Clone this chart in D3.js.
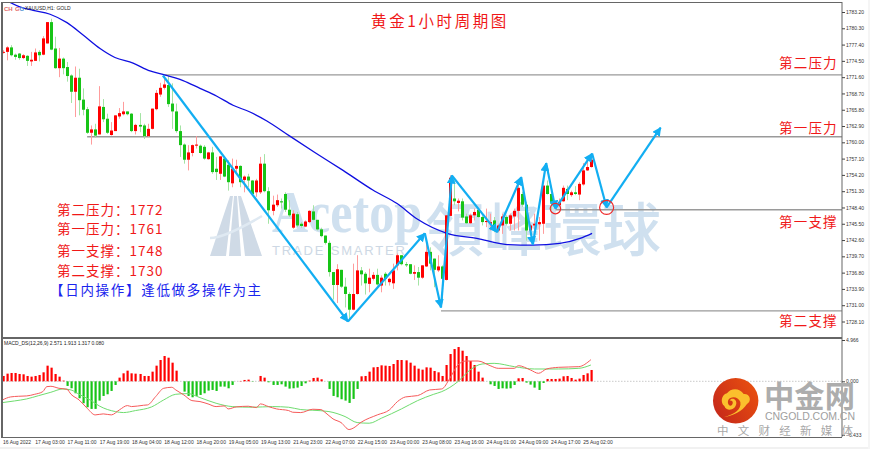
<!DOCTYPE html>
<html>
<head>
<meta charset="utf-8">
<script src="https://cdnjs.cloudflare.com/ajax/libs/d3/7.8.5/d3.min.js"></script>
<style>
html, body { margin: 0; padding: 0; background: #fff; overflow: hidden; }
svg { display: block; }
.axis text { font-family: "Liberation Sans", sans-serif; font-size: 5px; fill: #333; }
.axis line { stroke: #444; }
.axis path { display: none; }
</style>
</head>
<body>
<svg id="chart" width="870" height="449"></svg>
<script>
var candleOpen = [
  1776.0,1776.1,1776.9,1775.6,1775.8,1775.0,1775.4,1774.4,1774.5,1776.1,
  1775.6,1777.6,1781.4,1776.7,1773.2,1774.9,1773.4,1771.9,1769.0,1771.5,
  1767.6,1765.9,1761.7,1762.3,1761.4,1766.3,1764.2,1761.3,1762.0,1764.6,
  1765.0,1765.5,1765.1,1762.0,1763.1,1763.0,1761.1,1762.4,1765.9,1768.5,
  1769.7,1770.2,1766.9,1765.5,1762.0,1759.6,1756.9,1758.1,1759.4,1759.4,
  1759.2,1757.0,1758.2,1755.3,1754.4,1757.1,1756.0,1752.7,1755.3,1755.8,
  1753.3,1753.9,1753.2,1751.1,1751.1,1756.2,1751.3,1747.8,1748.8,1749.5,
  1750.8,1748.0,1744.8,1747.2,1745.5,1745.0,1745.8,1747.7,1746.2,1744.5,
  1743.4,1742.1,1736.9,1734.6,1737.3,1734.3,1733.0,1730.2,1733.0,1737.2,
  1736.6,1734.8,1735.7,1736.4,1734.5,1736.6,1735.1,1734.9,1738.1,1739.9,
  1738.3,1738.3,1736.6,1736.9,1735.9,1737.9,1740.5,1739.3,1737.2,1737.9,
  1735.5,1746.9,1750.0,1749.2,1749.5,1746.8,1745.6,1747.0,1748.0,1746.7,
  1745.8,1745.5,1746.1,1744.3,1745.2,1746.7,1745.5,1746.8,1747.8,1750.8,
  1748.9,1744.3,1745.2,1745.4,1745.5,1752.3,1750.8,1748.6,1748.8,1749.5,
  1751.7,1750.6,1751.1,1750.7,1752.5,1755.0,1755.6];
var candleClose = [
  1776.1,1776.9,1775.5,1775.2,1775.0,1775.5,1774.5,1774.7,1776.0,1775.5,
  1778.5,1781.4,1776.5,1773.2,1774.9,1773.2,1771.8,1769.0,1771.5,1767.5,
  1765.8,1761.7,1762.3,1761.2,1766.4,1764.1,1761.7,1762.1,1764.8,1765.2,
  1765.5,1765.0,1762.0,1763.1,1762.8,1761.1,1762.4,1766.0,1768.8,1769.7,
  1770.3,1766.8,1765.5,1762.0,1759.5,1756.9,1758.2,1759.5,1759.6,1758.1,
  1757.1,1758.2,1754.7,1754.7,1757.5,1753.9,1752.9,1755.3,1755.8,1752.9,
  1753.9,1753.2,1750.8,1753.2,1756.2,1751.3,1747.9,1748.9,1749.7,1749.3,
  1748.0,1747.0,1747.3,1745.2,1745.1,1745.9,1747.8,1746.2,1744.5,1743.3,
  1742.1,1736.9,1734.6,1737.4,1734.3,1733.0,1730.2,1733.0,1737.2,1736.5,
  1734.9,1735.9,1736.4,1734.7,1735.9,1735.7,1735.7,1737.2,1739.9,1738.3,
  1738.1,1736.6,1736.9,1735.9,1738.1,1740.5,1738.4,1737.3,1737.9,1735.7,
  1747.0,1753.7,1749.5,1749.6,1746.6,1745.6,1747.0,1747.6,1746.7,1745.8,
  1746.0,1745.8,1744.3,1745.2,1746.8,1745.5,1747.0,1747.8,1751.9,1748.9,
  1744.3,1745.2,1745.5,1745.8,1752.3,1750.8,1749.1,1748.9,1749.4,1751.9,
  1750.8,1751.1,1750.8,1752.6,1755.0,1755.6,1756.9];
var candleHigh = [
  1776.4,1777.1,1777.3,1775.8,1775.9,1775.7,1775.5,1776.1,1776.7,1776.4,
  1778.9,1781.4,1782.0,1778.8,1776.8,1775.1,1774.3,1772.1,1773.5,1773.1,
  1769.6,1766.3,1763.0,1763.3,1770.0,1767.7,1765.1,1763.6,1764.8,1766.1,
  1767.2,1765.5,1765.2,1763.3,1765.2,1763.3,1763.3,1766.0,1769.3,1770.6,
  1771.9,1771.9,1770.5,1766.9,1763.0,1759.8,1759.5,1759.6,1761.1,1759.6,
  1759.5,1758.3,1759.2,1757.4,1757.5,1757.4,1756.8,1757.1,1756.9,1755.9,
  1754.1,1754.4,1753.3,1753.5,1757.4,1757.9,1752.0,1750.5,1750.7,1750.0,
  1751.1,1749.7,1747.9,1747.6,1745.8,1746.1,1747.9,1748.8,1746.2,1744.8,
  1743.4,1742.5,1736.9,1738.3,1737.3,1735.9,1733.3,1738.4,1739.9,1737.8,
  1736.9,1737.5,1736.9,1737.5,1736.3,1736.9,1735.9,1738.4,1740.2,1739.9,
  1738.7,1738.3,1738.1,1737.8,1738.1,1742.2,1741.3,1739.3,1739.9,1738.1,
  1747.0,1754.1,1753.2,1750.0,1750.0,1747.3,1747.3,1748.2,1748.2,1747.0,
  1748.2,1747.3,1746.7,1745.5,1747.3,1747.0,1747.3,1748.2,1753.2,1751.2,
  1749.4,1745.5,1747.3,1746.7,1752.3,1753.2,1751.1,1749.4,1750.0,1752.3,
  1752.3,1751.4,1752.2,1752.9,1756.3,1756.8,1758.0];
var candleLow = [
  1775.8,1774.6,1775.3,1774.7,1774.7,1774.8,1773.6,1773.6,1774.5,1774.4,
  1775.5,1777.6,1776.4,1773.1,1771.6,1772.1,1770.8,1767.0,1764.5,1764.8,
  1764.8,1761.5,1759.6,1760.8,1761.4,1763.6,1761.5,1761.2,1762.0,1764.2,
  1764.8,1764.8,1761.8,1761.4,1761.8,1760.6,1760.9,1762.3,1765.7,1768.1,
  1769.4,1766.3,1762.4,1761.7,1757.4,1756.2,1755.0,1757.5,1758.9,1758.0,
  1756.9,1756.9,1754.4,1753.3,1753.3,1753.8,1751.4,1752.0,1754.7,1752.0,
  1751.1,1752.0,1750.6,1750.3,1750.8,1751.1,1745.5,1747.0,1748.5,1748.2,
  1747.6,1746.7,1744.6,1744.9,1744.8,1744.9,1745.6,1746.1,1744.3,1743.1,
  1741.8,1736.1,1732.0,1731.4,1734.1,1730.6,1728.3,1730.1,1732.9,1734.5,
  1732.9,1733.3,1735.4,1734.5,1733.3,1734.5,1734.5,1733.9,1737.2,1738.1,
  1737.8,1736.5,1735.5,1734.5,1735.7,1737.8,1737.2,1734.2,1736.9,1731.5,
  1735.4,1746.9,1748.8,1747.7,1746.1,1745.5,1745.5,1746.1,1746.6,1745.2,
  1744.9,1744.3,1744.0,1744.0,1743.7,1745.2,1744.3,1744.3,1744.3,1748.5,
  1742.5,1743.7,1743.1,1742.5,1743.7,1750.7,1747.9,1748.2,1748.5,1749.4,
  1749.7,1750.3,1750.6,1749.7,1752.3,1754.9,1755.5];

// moving average, [bar index, price]
var maIndex = [1.9,4.3,7.6,11.8,16,20,24.2,27.9,32.4,36.6,39.8,44.8,49,53.2,57.2,61.4,65.6,71.3,77.5,84.5,91.9,97.9,103,110.3,117.7,125.2,131.6,138.3,143.3,146.3];
var maValue = [1784.9,1784.1,1783.5,1782.8,1781.3,1779.1,1776.7,1775.1,1774.1,1772.7,1772.1,1771.0,1769.6,1768.2,1766.6,1765.4,1763.8,1761.1,1758.2,1755.0,1751.5,1749.1,1746.3,1743.8,1742.9,1741.8,1741.7,1742.0,1742.9,1743.8];

// hand drawn trend arrows
var trendIndex = [39.8,85.7,104.8,108.8,111.5,122.7,128.7,131.6,134.9,137.2,146.3,149.9,163.3];
var trendPrice = [1771.9,1728.1,1743.8,1730.6,1754.1,1744.0,1753.8,1741.8,1756.3,1748.2,1758.0,1748.4,1762.6];

// horizontal levels
var levelPrice = [1772,1761,1748,1730];
var levelStart = [39.8,21,137.2,108.8];
var levelNames = ["第二压力","第一压力","第一支撑","第二支撑"];
var levelLabelPrice = [1773.8,1762.4,1745.5,1728.0];

var noteRows = ["第二压力：1772","第一压力：1761","第一支撑：1748","第二支撑：1730"];

var priceTicks = [1783.2,1780.3,1777.4,1774.5,1771.6,1768.7,1765.8,1762.9,1760,1757.1,1754.2,1751.3,1748.4,1745.5,1742.6,1739.7,1736.8,1733.9,1731,1728.1];
var timeLabels = ["16 Aug 2022","17 Aug 03:00","17 Aug 11:00","17 Aug 19:00","18 Aug 04:00","18 Aug 12:00","18 Aug 20:00","19 Aug 05:00","19 Aug 13:00","21 Aug 23:00","22 Aug 07:00","22 Aug 15:00","23 Aug 00:00","23 Aug 08:00","23 Aug 16:00","24 Aug 01:00","24 Aug 09:00","24 Aug 17:00","25 Aug 02:00"];
var macdTicks = [4.966,0,-6.433];

var macdHist = [
  .64,.92,1,1,.88,.84,.64,.56,.64,.76,
  1.08,1.88,1.64,.88,.56,.08,-.56,-.84,-1.44,-2.04,
  -2.64,-3.12,-3.32,-3.32,-2.32,-1.76,-1.56,-1.16,-.44,.44,
  .96,1.28,.96,.92,.88,.64,.64,1.16,1.88,2.56,
  3.04,2.84,2.24,1.28,0,-1.24,-1.76,-1.92,-1.76,-1.64,
  -1.44,-1.12,-1.04,-1.16,-.64,-.64,-.84,-.44,0,.04,
  .16,.2,-.04,0,.64,.44,-.12,-.44,-.44,-.36,
  -.64,-.88,-.84,-.76,-.56,-.24,.08,.4,.44,.24,
  0,-.92,-1.76,-1.92,-2.16,-2.32,-2.6,-2.12,-.92,.6,
  .64,1.16,1.68,1.72,1.92,1.88,1.84,2.08,2.56,2.56,
  2.52,2.24,1.88,1.52,1.4,1.68,1.64,1.24,1.08,.64,
  1.96,3.28,3.88,4.12,3.68,3.04,2.44,1.96,1.16,.44,
  0,-.36,-.56,-.92,-.84,-.88,-.84,-.44,.36,.4,
  -.16,-.4,-.76,-1.04,-.2,.28,.28,.28,.32,.6,
  .64,.4,.2,.32,.76,.96,1.36];

var macdIndex = [0,2,4,6,8,10,11,12,14,16,17,19,21,23,25,27,29,31,32,35,36,38,40,42,43,45,47,49,51,53,55,56,58,61,63,64,66,68,71,72,74,77,79,80,82,84,86,87,89,93,96,98,100,103,106,109,111,113,115,118,121,123,127,128,131,133,135,138,143,146];
var macdLine = [-2.24,-1.88,-1.8,-1.76,-1.56,-1.24,-.64,-.6,-.84,-.96,-1.56,-2.24,-3.24,-4.04,-3.92,-4.04,-3.44,-2.92,-3.04,-2.88,-2.84,-1.84,-.84,-.72,-1.04,-1.64,-2.32,-2.44,-2.72,-3.04,-2.96,-3.32,-3.08,-3,-3.16,-2.72,-3.04,-3.32,-3.52,-3.72,-3.76,-3.36,-3.4,-3.72,-4.52,-4.96,-5.8,-5.64,-4.92,-4.04,-3.44,-2.44,-1.88,-1.72,-1.04,-.92,.36,1.96,2.44,2.44,1.88,1.56,1.56,1.88,1.36,.96,1.48,1.68,1.76,2.6];
var signalIndex = [0,3,6,9,12,15,17,19,22,24,28,30,33,37,40,43,46,49,53,57,62,67,71,74,77,81,85,88,91,94,99,103,107,109,113,116,119,122,127,132,138,143,146];
var signalLine = [-2.56,-2.36,-2.12,-1.72,-1.32,-.92,-1.04,-1.56,-2.32,-2.96,-3.64,-3.76,-3.52,-3.08,-2.24,-1.56,-1.48,-1.96,-2.64,-3.04,-3.12,-3.04,-3.12,-3.4,-3.48,-3.64,-4.24,-4.96,-5.04,-4.44,-3.32,-2.32,-1.56,-1.24,-.04,1.36,2.08,2.16,1.76,1.48,1.48,1.56,1.96];

var UP = "#ff0000", DOWN = "#17c417", ARROW = "#12aef2";
var AXIS_X = 842, PANE_BOTTOM = 337, SUB_TOP = 339, SUB_BOTTOM = 437;
var CJK = '"Noto Sans CJK SC", sans-serif';

var svg = d3.select("#chart");
var defs = svg.append("defs");
var x = d3.scaleLinear().domain([0, 146]).range([2.5, 590.9]);
var y = d3.scaleLinear().domain([1783.2, 1728.1]).range([12, 321.5]);
var yMacd = d3.scaleLinear().domain([4.966, -6.433]).range([340, 434.8]);

svg.append("rect").attr("x", 0).attr("y", 447).attr("width", 870).attr("height", 2).attr("fill", "#f1f1f1");
svg.append("rect").attr("x", 868).attr("y", 0).attr("width", 2).attr("height", 449).attr("fill", "#f5f5f5");

drawWatermark();

defs.append("clipPath").attr("id", "main-clip")
  .append("rect").attr("x", 3).attr("y", 3).attr("width", AXIS_X - 3).attr("height", PANE_BOTTOM - 3);

// support / resistance levels
svg.append("g").selectAll("line")
  .data(levelPrice)
  .join("line")
    .attr("x1", (d, i) => x(levelStart[i]))
    .attr("x2", AXIS_X)
    .attr("y1", d => y(d))
    .attr("y2", d => y(d))
    .attr("stroke", "#9a9a9a")
    .attr("stroke-width", 1.4);

// candles
var bars = d3.range(candleOpen.length);
var candle = svg.append("g").selectAll("g")
  .data(bars)
  .join("g")
    .attr("transform", i => "translate(" + Math.round(x(i)) + ",0)");
candle.append("line")
    .attr("x1", 0.5).attr("x2", 0.5)
    .attr("y1", i => y(candleHigh[i]))
    .attr("y2", i => y(candleLow[i]))
    .attr("stroke", i => candleClose[i] >= candleOpen[i] ? "#ff9c9c" : "#a4e4a4")
    .attr("stroke-width", 1);
candle.append("rect")
    .attr("x", -1).attr("width", 3)
    .attr("y", i => y(Math.max(candleOpen[i], candleClose[i])))
    .attr("height", i => Math.max(1, Math.abs(y(candleOpen[i]) - y(candleClose[i]))))
    .attr("fill", i => candleClose[i] >= candleOpen[i] ? UP : DOWN);

// moving average
svg.append("path")
    .datum(d3.range(maIndex.length))
    .attr("clip-path", "url(#main-clip)")
    .attr("fill", "none")
    .attr("stroke", "#0f0fe0")
    .attr("stroke-width", 1.3)
    .attr("d", d3.line().x(i => x(maIndex[i])).y(i => y(maValue[i])).curve(d3.curveMonotoneX));

// trend arrows
defs.append("marker")
    .attr("id", "head")
    .attr("viewBox", "0 0 10 10")
    .attr("refX", 9).attr("refY", 5)
    .attr("markerUnits", "userSpaceOnUse")
    .attr("markerWidth", 9).attr("markerHeight", 9)
    .attr("orient", "auto")
  .append("path")
    .attr("d", "M0 0L10 5L0 10Z")
    .attr("fill", ARROW);
svg.append("g").selectAll("line")
  .data(d3.range(trendIndex.length - 1))
  .join("line")
    .attr("x1", i => x(trendIndex[i]))
    .attr("y1", i => y(trendPrice[i]))
    .attr("x2", i => x(trendIndex[i + 1]))
    .attr("y2", i => y(trendPrice[i + 1]))
    .attr("stroke", ARROW)
    .attr("stroke-width", 2.2)
    .attr("marker-end", "url(#head)");

// the two circled pullbacks
svg.append("g").selectAll("circle")
  .data([[9, 5.2], [11, 7]])
  .join("circle")
    .attr("cx", d => x(trendIndex[d[0]]))
    .attr("cy", d => y(trendPrice[d[0]]))
    .attr("r", d => d[1])
    .attr("fill", "none")
    .attr("stroke", "#ee2a2a")
    .attr("stroke-width", 1.2);

// macd pane
svg.append("line")
    .attr("x1", 3).attr("x2", AXIS_X)
    .attr("y1", yMacd(0)).attr("y2", yMacd(0))
    .attr("stroke", "#bbb").attr("stroke-width", 0.8)
    .attr("stroke-dasharray", "1.5,1.5");
svg.append("g").selectAll("rect")
  .data(macdHist)
  .join("rect")
    .attr("x", (d, i) => Math.round(x(i)) - 0.5)
    .attr("width", 2.2)
    .attr("y", d => yMacd(Math.max(d, 0)))
    .attr("height", d => Math.abs(yMacd(d) - yMacd(0)))
    .attr("fill", d => d >= 0 ? UP : DOWN);
svg.append("path")
    .datum(d3.range(signalIndex.length))
    .attr("fill", "none").attr("stroke", "#6fdc6f").attr("stroke-width", 1)
    .attr("d", d3.line().x(i => x(signalIndex[i])).y(i => yMacd(signalLine[i])).curve(d3.curveMonotoneX));
svg.append("path")
    .datum(d3.range(macdIndex.length))
    .attr("fill", "none").attr("stroke", "#f65a5a").attr("stroke-width", 1)
    .attr("d", d3.line().x(i => x(macdIndex[i])).y(i => yMacd(macdLine[i])).curve(d3.curveMonotoneX));

// frame
var frame = svg.append("g").attr("fill", "#666");
frame.append("rect").attr("x", 1).attr("y", 2).attr("width", AXIS_X - 1).attr("height", 1);
frame.append("rect").attr("x", 1).attr("y", 2).attr("width", 2).attr("height", SUB_BOTTOM - 2);
frame.append("rect").attr("x", 1).attr("y", PANE_BOTTOM).attr("width", AXIS_X - 1).attr("height", 2);
frame.append("rect").attr("x", 1).attr("y", SUB_BOTTOM).attr("width", AXIS_X - 1).attr("height", 1);
frame.append("rect").attr("x", AXIS_X - 0.5).attr("y", 2).attr("width", 1).attr("height", SUB_BOTTOM - 2);

// axes
svg.append("g").attr("class", "axis")
    .attr("transform", "translate(" + AXIS_X + ",0)")
    .call(d3.axisRight(y).tickValues(priceTicks).tickFormat(d3.format(".2f")).tickSize(3).tickPadding(1));
svg.append("g").attr("class", "axis")
    .attr("transform", "translate(" + AXIS_X + ",0)")
    .call(d3.axisRight(yMacd).tickValues(macdTicks).tickFormat(d3.format(".3f")).tickSize(3).tickPadding(1));
svg.append("g").attr("class", "axis")
    .attr("transform", "translate(0," + (SUB_BOTTOM + 1) + ")")
    .call(d3.axisBottom(d3.scalePoint().domain(timeLabels).range([x(0), x(8 * (timeLabels.length - 1))]))
      .tickSize(0).tickPadding(2))
    .selectAll("text").attr("text-anchor", "start");

drawCnGoldLogo();

// labels
svg.append("text")
    .attr("x", 440).attr("y", 27)
    .attr("text-anchor", "middle")
    .attr("font-family", CJK).attr("font-size", 15.5).attr("letter-spacing", 2.6)
    .attr("fill", "#f01818")
    .text("黄金1小时周期图");

svg.append("g").selectAll("text")
  .data(levelNames)
  .join("text")
    .attr("x", 779)
    .attr("y", (d, i) => y(levelLabelPrice[i]))
    .attr("dominant-baseline", "middle")
    .attr("font-family", CJK).attr("font-size", 13.5).attr("letter-spacing", 1.2)
    .attr("fill", "#f01818")
    .text(d => d);

svg.append("g").selectAll("text")
  .data(noteRows)
  .join("text")
    .attr("x", 57)
    .attr("y", (d, i) => [215, 234, 256, 275.5][i])
    .attr("font-family", CJK).attr("font-size", 13.5).attr("letter-spacing", 1)
    .attr("fill", "#f01818")
    .text(d => d);
svg.append("text")
    .attr("x", 50).attr("y", 294.5)
    .attr("font-family", CJK).attr("font-size", 13.5).attr("letter-spacing", 1.7)
    .attr("fill", "#1a25ee")
    .text("【日内操作】逢低做多操作为主");

svg.append("text").attr("x", 25).attr("y", 10)
    .attr("font-family", "Liberation Sans").attr("font-size", 5).attr("fill", "#222")
    .text("XAUUSD,H1: GOLD");
svg.append("text").attr("x", 4).attr("y", 345)
    .attr("font-family", "Liberation Sans").attr("font-size", 5).attr("fill", "#222")
    .text("MACD_DS(12,26,9) 2.571 1.913 1.317 0.080");
svg.append("text").attr("x", 4).attr("y", 10.5)
    .attr("font-family", "Liberation Sans").attr("font-size", 6).attr("font-weight", 700).attr("fill", "#e56a6a")
    .text("CH");
svg.append("text").attr("x", 15).attr("y", 10.5)
    .attr("font-family", "Liberation Sans").attr("font-size", 6).attr("font-weight", 700).attr("fill", "#e56a6a")
    .text("G");
svg.append("text").attr("x", 19.5).attr("y", 10.5)
    .attr("font-family", "Liberation Sans").attr("font-size", 6).attr("font-weight", 700).attr("fill", "#4f8fd0")
    .text("O");

function drawWatermark() {
  var g = svg.append("g");
  var roadColor = "#cfdae6";
  // road shaped logo
  g.append("path").attr("fill", roadColor)
    .attr("d", "M230 196L233 196L226 256L210 256ZM234 196L237 196L241 256L229 256ZM238 196L241 196L262 256L245 256Z");
  g.append("path").attr("fill", "none").attr("stroke", "#dfe9f2").attr("stroke-width", 2.5)
    .attr("d", "M210 238C222 238 245 226 262 216");
  g.append("text").attr("x", 272).attr("y", 232)
    .attr("font-family", "Liberation Serif").attr("font-size", 60).attr("font-weight", 700)
    .attr("textLength", 150).attr("lengthAdjust", "spacingAndGlyphs")
    .attr("fill", "#cfe0ef").text("Acetop");
  g.append("text").attr("x", 425).attr("y", 251)
    .attr("font-family", '"Noto Sans CJK TC"').attr("font-size", 58).attr("font-weight", 500)
    .attr("textLength", 236).attr("lengthAdjust", "spacingAndGlyphs")
    .attr("fill", "#cfe0ef").text("領峰環球");
  g.append("text").attr("x", 272).attr("y", 255)
    .attr("font-family", "Liberation Sans").attr("font-size", 13)
    .attr("textLength", 133)
    .attr("fill", "#cdd8e4").text("TRADE SMARTER");
}

function drawCnGoldLogo() {
  var g = svg.append("g");
  var grad = defs.append("linearGradient").attr("id", "ball").attr("x1", 0).attr("x2", 1).attr("y1", 0.8).attr("y2", 0.2);
  grad.append("stop").attr("offset", 0).attr("stop-color", "#c5281a");
  grad.append("stop").attr("offset", 1).attr("stop-color", "#e9500f");
  g.append("circle").attr("cx", 735.7).attr("cy", 400.7).attr("r", 22.7).attr("fill", "url(#ball)");
  var logo = g.append("g").attr("transform", "translate(705,370) scale(0.3333)");
  logo.append("path").attr("fill", "#fbc02d")
    .attr("d", "M56 142C85 136 112 124 126 102C142 92 134 70 116 72C104 52 76 54 66 70C48 74 46 100 58 108C64 126 92 122 94 100C95 88 80 80 74 92C84 90 86 100 80 106C72 110 66 100 70 90C76 78 100 78 106 96C110 118 90 132 56 142Z");
  g.append("text").attr("x", 764).attr("y", 407)
    .attr("font-family", CJK).attr("font-size", 30).attr("font-weight", 700)
    .attr("textLength", 91).attr("lengthAdjust", "spacingAndGlyphs")
    .attr("fill", "#adadad").text("中金网");
  g.append("text").attr("x", 765).attr("y", 420)
    .attr("font-family", "Liberation Sans").attr("font-size", 10.5)
    .attr("textLength", 90)
    .attr("fill", "#a0a0a0").text("CNGOLD.COM.CN");
  g.append("text").attr("x", 717).attr("y", 435)
    .attr("font-family", CJK).attr("font-size", 11.5)
    .attr("textLength", 136)
    .attr("fill", "#a8a8a8").text("中文财经新媒体");
}
</script>
</body>
</html>
